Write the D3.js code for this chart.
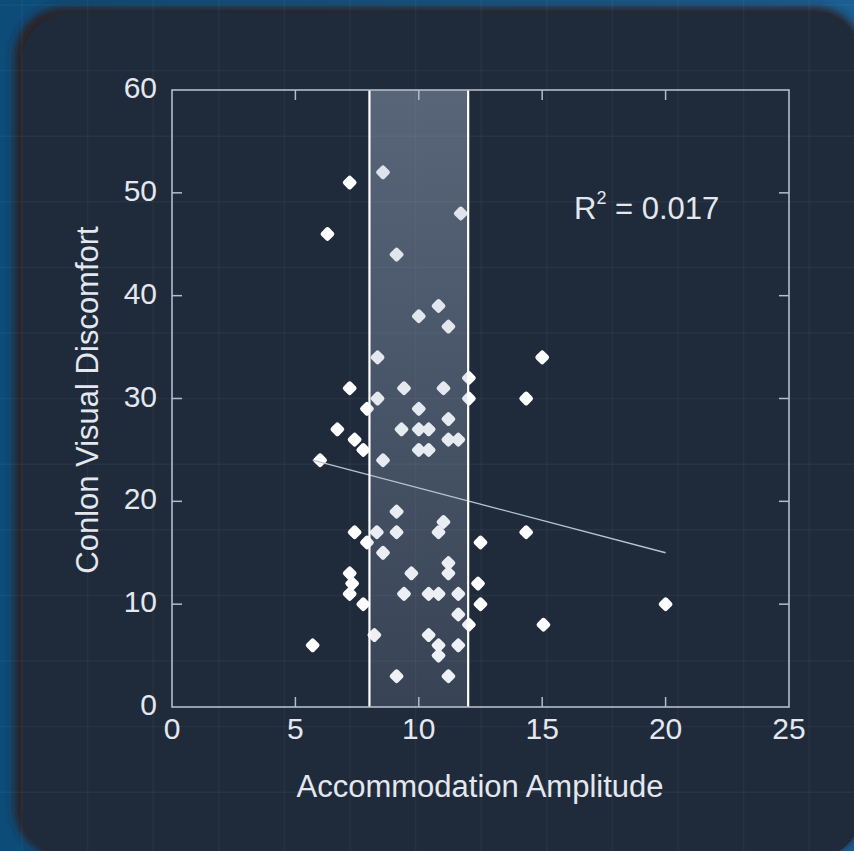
<!DOCTYPE html>
<html>
<head>
<meta charset="utf-8">
<script src="https://cdn.jsdelivr.net/npm/d3@7"></script>
<style>
  html, body { margin: 0; padding: 0; background: #0e4a78; }
  svg { display: block; }
</style>
</head>
<body>
<svg id="chart" width="854" height="851"></svg>
<script>
// Accommodation amplitude (x) against Conlon visual discomfort score (y)
const ampValues = [
  5.7, 6.0, 6.3, 6.7, 7.2, 7.2, 7.4, 7.75, 7.4, 7.2, 7.3, 7.2, 7.75, 7.9, 7.9,
  8.55, 9.1, 11.7, 10.8, 10.0, 11.2, 8.33, 9.4, 11.0, 8.33, 10.0, 11.2, 9.3, 10.0, 10.4,
  11.2, 11.6, 10.0, 10.4, 8.55, 9.1, 11.0, 8.3, 9.1, 10.8, 8.55, 11.2, 11.2, 9.7, 9.4,
  10.4, 10.8, 11.6, 11.6, 8.2, 10.4, 10.8, 11.6, 10.8, 9.1, 11.2,
  12.03, 12.03, 12.5, 12.4, 12.5, 12.03, 14.35, 15.0, 14.35, 15.05, 20.0
];
const discomfortValues = [
  6, 24, 46, 27, 51, 31, 26, 25, 17, 13, 12, 11, 10, 29, 16,
  52, 44, 48, 39, 38, 37, 34, 31, 31, 30, 29, 28, 27, 27, 27,
  26, 26, 25, 25, 24, 19, 18, 17, 17, 17, 15, 14, 13, 13, 11,
  11, 11, 11, 9, 7, 7, 6, 6, 5, 3, 3,
  32, 30, 16, 12, 10, 8, 30, 34, 17, 8, 10
];
// Least-squares fit endpoints
const trendX = [5.7, 20.0];
const trendY = [24.0, 15.0];
// Shaded normal range of accommodation amplitude
const bandRange = [8, 12];
const xTicks = [0, 5, 10, 15, 20, 25];
const yTicks = [0, 10, 20, 30, 40, 50, 60];
const rSquaredLabel = "0.017";

const W = 854, H = 851;
const svg = d3.select("#chart");
const defs = svg.append("defs");

// ---- backdrop ----
const bgGrad = defs.append("linearGradient").attr("id", "bgBlue")
  .attr("x1", 0).attr("y1", 0).attr("x2", 1).attr("y2", 0);
bgGrad.append("stop").attr("offset", "0%").attr("stop-color", "#0d4b79");
bgGrad.append("stop").attr("offset", "100%").attr("stop-color", "#1b5f93");
svg.append("rect").attr("width", W).attr("height", H).attr("fill", "url(#bgBlue)");

const shadow = defs.append("filter").attr("id", "panelShadow")
  .attr("x", "-10%").attr("y", "-10%").attr("width", "120%").attr("height", "120%");
shadow.append("feGaussianBlur").attr("stdDeviation", 4);

svg.append("rect")
  .attr("x", 14).attr("y", 7).attr("width", 850).attr("height", 850)
  .attr("rx", 50).attr("fill", "#2a2426").attr("filter", "url(#panelShadow)");
svg.append("rect")
  .attr("x", 22).attr("y", 13).attr("width", 840).attr("height", 845)
  .attr("rx", 48).attr("fill", "#1f2a3b");

// faint blueprint grid over everything
const gridStep = 65.6;
const gridG = svg.append("g").attr("stroke", "rgba(255,255,255,0.04)").attr("stroke-width", 1.5);
d3.range(22, W, gridStep).forEach(gx =>
  gridG.append("line").attr("x1", gx).attr("x2", gx).attr("y1", 0).attr("y2", H));
d3.range(5, H, gridStep).forEach(gy =>
  gridG.append("line").attr("x1", 0).attr("x2", W).attr("y1", gy).attr("y2", gy));

// ---- scales ----
const plotLeft = 172, plotRight = 789, plotTop = 90, plotBottom = 707;
const x = d3.scaleLinear().domain([0, 25]).range([plotLeft, plotRight]);
const y = d3.scaleLinear().domain([0, 60]).range([plotBottom, plotTop]);

const textColor = "#e4e8ee";
const frameColor = "#b4bdca";
const fontFamily = "'Liberation Sans', Arial, sans-serif";

// ---- points (rounded diamonds) ----
const points = ampValues.map((v, i) => ({ x: v, y: discomfortValues[i] }));
const marker = d3.symbol().type(d3.symbolSquare).size(38);
svg.append("g").selectAll("path").data(points).join("path")
  .attr("d", marker)
  .attr("transform", d => `translate(${x(d.x)},${y(d.y)}) rotate(45)`)
  .attr("fill", "#ffffff")
  .attr("stroke", "#ffffff")
  .attr("stroke-width", 5)
  .attr("stroke-linejoin", "round");

// ---- trend line ----
svg.append("line")
  .attr("x1", x(trendX[0])).attr("y1", y(trendY[0]))
  .attr("x2", x(trendX[1])).attr("y2", y(trendY[1]))
  .attr("stroke", "#b9c3d0").attr("stroke-width", 1.3);

// ---- normal range band (translucent, over the points) ----
const bandGrad = defs.append("linearGradient").attr("id", "bandFill")
  .attr("x1", 0).attr("y1", 0).attr("x2", 0).attr("y2", 1);
bandGrad.append("stop").attr("offset", "0%").attr("stop-color", "#a8b6ce").attr("stop-opacity", 0.42);
bandGrad.append("stop").attr("offset", "100%").attr("stop-color", "#a8b6ce").attr("stop-opacity", 0.18);
svg.append("rect")
  .attr("x", x(bandRange[0])).attr("y", plotTop)
  .attr("width", x(bandRange[1]) - x(bandRange[0]))
  .attr("height", plotBottom - plotTop)
  .attr("fill", "url(#bandFill)");
svg.append("g").selectAll("line").data(bandRange).join("line")
  .attr("x1", d => x(d)).attr("x2", d => x(d))
  .attr("y1", plotTop).attr("y2", plotBottom)
  .attr("stroke", "#ffffff").attr("stroke-width", 2.2);

// ---- frame and inward ticks ----
svg.append("rect")
  .attr("x", plotLeft).attr("y", plotTop)
  .attr("width", plotRight - plotLeft).attr("height", plotBottom - plotTop)
  .attr("fill", "none").attr("stroke", frameColor).attr("stroke-width", 1.6);

const tickLen = 10;
const innerX = xTicks.slice(1, -1), innerY = yTicks.slice(1, -1);
const tickG = svg.append("g").attr("stroke", frameColor).attr("stroke-width", 1.5);
innerX.forEach(t => {
  tickG.append("line").attr("x1", x(t)).attr("x2", x(t)).attr("y1", plotBottom).attr("y2", plotBottom - tickLen);
  tickG.append("line").attr("x1", x(t)).attr("x2", x(t)).attr("y1", plotTop).attr("y2", plotTop + tickLen);
});
innerY.forEach(t => {
  tickG.append("line").attr("x1", plotLeft).attr("x2", plotLeft + tickLen).attr("y1", y(t)).attr("y2", y(t));
  tickG.append("line").attr("x1", plotRight).attr("x2", plotRight - tickLen).attr("y1", y(t)).attr("y2", y(t));
});

// ---- tick labels ----
svg.append("g").selectAll("text").data(xTicks).join("text")
  .attr("x", d => x(d)).attr("y", plotBottom + 32)
  .attr("text-anchor", "middle")
  .attr("font-family", fontFamily).attr("font-size", 30).attr("fill", textColor)
  .text(d => d);
svg.append("g").selectAll("text").data(yTicks).join("text")
  .attr("x", plotLeft - 15).attr("y", d => y(d) + 8)
  .attr("text-anchor", "end")
  .attr("font-family", fontFamily).attr("font-size", 30).attr("fill", textColor)
  .text(d => d);

// ---- axis titles ----
svg.append("text")
  .attr("x", 480).attr("y", 797)
  .attr("text-anchor", "middle")
  .attr("font-family", fontFamily).attr("font-size", 31).attr("fill", textColor)
  .text("Accommodation Amplitude");
svg.append("text")
  .attr("transform", `translate(${98},${400}) rotate(-90)`)
  .attr("text-anchor", "middle")
  .attr("font-family", fontFamily).attr("font-size", 31).attr("fill", textColor)
  .text("Conlon Visual Discomfort");

// ---- R² annotation ----
const rText = svg.append("text")
  .attr("x", 574).attr("y", 219)
  .attr("font-family", fontFamily).attr("font-size", 31).attr("fill", textColor);
rText.append("tspan").text("R");
rText.append("tspan").attr("font-size", 18).attr("dy", -15).text("2");
rText.append("tspan").attr("dy", 15).text(" = " + rSquaredLabel);
</script>
</body>
</html>
